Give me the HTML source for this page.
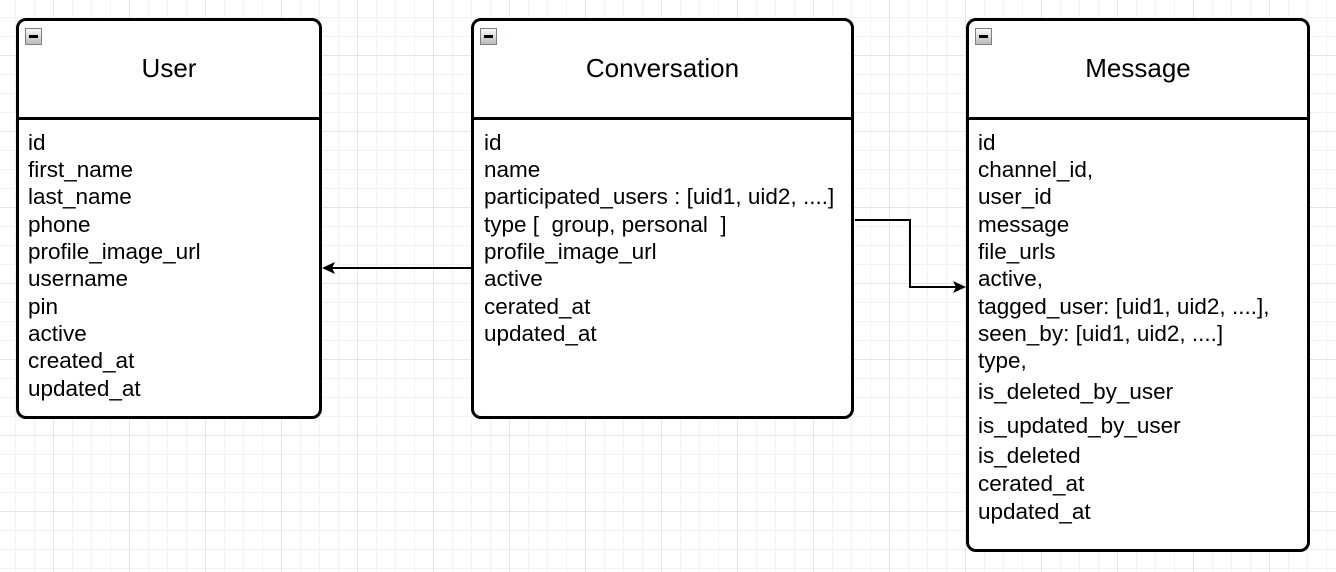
<!DOCTYPE html>
<html><head><style>
body{margin:0;width:1336px;height:572px;overflow:hidden;background:#fff;
background-image:linear-gradient(#e4e4e4 1px,transparent 1px),linear-gradient(90deg,#e4e4e4 1px,transparent 1px),linear-gradient(#f2f2f2 1px,transparent 1px),linear-gradient(90deg,#f2f2f2 1px,transparent 1px);
background-size:76px 76px,76px 76px,19px 19px,19px 19px;background-position:-23px -21px,-23px -21px,-23px -21px,-23px -21px;
font-family:"Liberation Sans",Arial,sans-serif;position:relative}
.box{position:absolute;border:3px solid #000;border-radius:10px;background:#fff;box-sizing:border-box}
.hd{height:96px;border-bottom:3px solid #000;text-align:center;font-size:26px;line-height:94px;position:relative}
.ic{position:absolute;left:6px;top:7px;width:17px;height:17px;border:1px solid #7a7f8a;background:linear-gradient(#fafafa,#bbb);box-sizing:border-box}
.ic:after{content:"";position:absolute;left:3px;right:3px;top:6px;height:3px;background:#000}
.t{position:absolute;left:9px;font-size:22.5px;white-space:pre;line-height:22px}
</style></head><body>
<div class="box" style="left:16px;top:18px;width:306px;height:401px"><div class="hd"><div class="ic"></div>User</div></div>
<div class="box" style="left:471px;top:18px;width:383px;height:401px"><div class="hd"><div class="ic"></div>Conversation</div></div>
<div class="box" style="left:966px;top:18px;width:344px;height:534px"><div class="hd"><div class="ic"></div>Message</div></div>
<div style="position:absolute;left:28px;top:0">
<div class="t" style="left:0;top:132px">id</div><div class="t" style="left:0;top:159px">first_name</div><div class="t" style="left:0;top:186px">last_name</div><div class="t" style="left:0;top:214px">phone</div><div class="t" style="left:0;top:241px">profile_image_url</div><div class="t" style="left:0;top:268px">username</div><div class="t" style="left:0;top:296px">pin</div><div class="t" style="left:0;top:323px">active</div><div class="t" style="left:0;top:350px">created_at</div><div class="t" style="left:0;top:378px">updated_at</div>
</div>
<div style="position:absolute;left:484px;top:0">
<div class="t" style="left:0;top:132px">id</div><div class="t" style="left:0;top:159px">name</div><div class="t" style="left:0;top:186px">participated_users : [uid1, uid2, ....]</div><div class="t" style="left:0;top:214px">type [  group, personal  ]</div><div class="t" style="left:0;top:241px">profile_image_url</div><div class="t" style="left:0;top:268px">active</div><div class="t" style="left:0;top:296px">cerated_at</div><div class="t" style="left:0;top:323px">updated_at</div>
</div>
<div style="position:absolute;left:978px;top:0">
<div class="t" style="left:0;top:132px">id</div><div class="t" style="left:0;top:159px">channel_id,</div><div class="t" style="left:0;top:186px">user_id</div><div class="t" style="left:0;top:214px">message</div><div class="t" style="left:0;top:241px">file_urls</div><div class="t" style="left:0;top:268px">active,</div><div class="t" style="left:0;top:296px">tagged_user: [uid1, uid2, ....],</div><div class="t" style="left:0;top:323px">seen_by: [uid1, uid2, ....]</div><div class="t" style="left:0;top:350px">type,</div><div class="t" style="left:0;top:381px">is_deleted_by_user</div><div class="t" style="left:0;top:415px">is_updated_by_user</div><div class="t" style="left:0;top:445px">is_deleted</div><div class="t" style="left:0;top:473px">cerated_at</div><div class="t" style="left:0;top:501px">updated_at</div>
</div>
<svg width="1336" height="572" style="position:absolute;left:0;top:0">
<path d="M471 268H330" stroke="#000" stroke-width="2" fill="none"/>
<path d="M322 268l13 -6l-3 6l3 6z" fill="#000"/>
<path d="M855 220H910V287H958" stroke="#000" stroke-width="2" fill="none"/>
<path d="M966 287l-13 -6l3 6l-3 6z" fill="#000"/>
</svg>
</body></html>
